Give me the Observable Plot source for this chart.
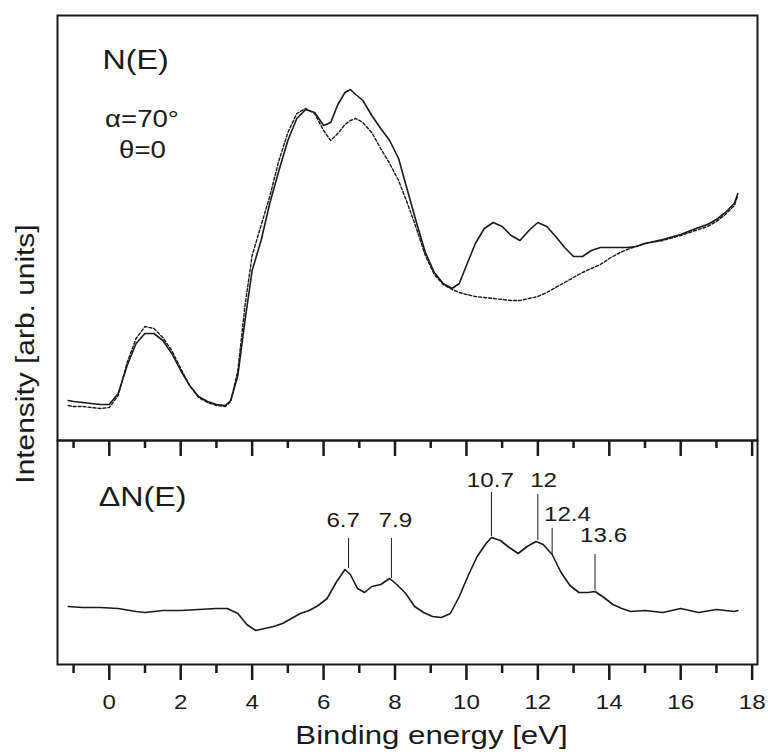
<!DOCTYPE html>
<html>
<head>
<meta charset="utf-8">
<script src="https://cdn.jsdelivr.net/npm/d3@7"></script>
<script src="https://cdn.jsdelivr.net/npm/@observablehq/plot@0.6"></script>
<style>
  html, body { margin: 0; padding: 0; background: #ffffff; }
  #wrap { position: relative; width: 768px; height: 754px; overflow: hidden; font-family: "Liberation Sans", Arial, sans-serif; color: #1a1a1a; }
  #wrap svg { position: absolute; left: 0; overflow: visible; }
  #ytitle { position: absolute; left: 25px; top: 354px; transform: translate(-50%, -50%) rotate(-90deg) scaleX(1.15); white-space: nowrap; font-size: 26px; line-height: 1; }
</style>
</head>
<body>
<div id="wrap"><div id="ytitle">Intensity [arb. units]</div></div>
<script>
// ---- Data ----
// Upper panel: N(E), binding energy in eV, intensity in arbitrary units
const energyTop = [-1.15,-1,-0.75,-0.5,-0.25,0,0.25,0.5,0.75,1,1.25,1.5,1.75,2,2.25,2.5,2.75,3,3.25,3.4,3.6,3.8,4,4.25,4.5,4.75,5,5.25,5.5,5.75,6,6.2,6.4,6.6,6.75,6.9,7.1,7.35,7.6,7.85,8.1,8.35,8.6,8.85,9.1,9.35,9.6,9.8,10,10.25,10.5,10.75,11,11.25,11.5,11.75,12,12.25,12.5,12.75,13,13.25,13.5,13.75,14,14.25,14.5,14.75,15,15.5,16,16.5,16.75,17,17.25,17.5,17.6];
const solidN = [40,39,38,37,36,36,47,75,97,107,107,100,87,70,55,44,39,36,35,40,65,120,170,200,238,270,300,322,331,328,315,318,336,348,351,346,340,325,312,300,282,250,218,188,168,157,152,157,175,197,212,218,214,205,200,210,218,214,204,193,184,184,190,193,193,193,193,194,197,201,206,213,216,221,228,237,247];
const dashedN = [35,34,34,33,32,33,45,78,102,114,112,103,90,72,55,43,38,35,34,39,70,135,185,215,245,280,308,327,332,327,310,300,307,316,320,322,318,308,292,277,260,237,212,185,166,156,151,148,146,144,143,142,141,140,140,142,144,148,153,158,163,168,172,176,182,187,191,194,197,200,205,211,214,219,226,235,245];

// Lower panel: difference spectrum ΔN(E)
const energyDiff = [-1.15,-0.75,-0.25,0.25,0.75,1,1.5,2,2.5,3,3.3,3.6,3.85,4.1,4.35,4.6,4.85,5.1,5.35,5.6,5.85,6.1,6.35,6.6,6.75,6.95,7.15,7.35,7.6,7.85,8.05,8.3,8.55,8.8,9.05,9.3,9.55,9.8,10.05,10.3,10.55,10.7,10.95,11.2,11.45,11.7,11.95,12.15,12.4,12.65,12.9,13.15,13.4,13.6,13.85,14.1,14.35,14.6,15,15.5,16,16.5,17,17.5,17.6];
const diffN = [58,57,57,56,53,52,54,54,55,56,56,51,40,34,36,38,41,46,51,54,59,66,82,95,90,76,72,78,80,86,80,71,58,52,48,47,51,68,89,108,121,127,124,117,111,118,123,120,110,92,79,72,72,73,67,60,56,53,54,52,56,52,55,53,54];

// Peak annotations in the lower panel
const peakLabel = ["6.7","7.9","10.7","12","12.4","13.6"];
const peakE = [6.7,7.9,10.7,12,12.4,13.6];
const peakLineBottom = [96,86,128,124,109,74];
const peakLineTop = [126,126,172,170,136,110];
const peakLabelE = [6.55,8.01,10.67,12.16,12.83,13.84];
const peakLabelY = [144,144,184,184,150,129];

// Axis ticks
const majorTicks = [0,2,4,6,8,10,12,14,16,18];
const minorTicks = [-1,1,3,5,7,9,11,13,15,17];
const xTitle = "Binding energy [eV]";

// ---- Build ----
const ink = "#1a1a1a";
const font = "'Liberation Sans', Arial, sans-serif";
const xDomain = [-1.45, 18.15];
const topRows = energyTop.map((e, i) => ({e, solid: solidN[i], dashed: dashedN[i]}));
const diffRows = energyDiff.map((e, i) => ({e, d: diffN[i]}));
const peaks = peakLabel.map((t, i) => ({t, e: peakE[i], y1: peakLineBottom[i], y2: peakLineTop[i], le: peakLabelE[i], ly: peakLabelY[i]}));

const topPlot = Plot.plot({
  width: 768, height: 441,
  marginTop: 15, marginBottom: 1, marginLeft: 57, marginRight: 11,
  x: {domain: xDomain, axis: null},
  y: {domain: [0, 425], axis: null},
  style: {fontFamily: font, background: "transparent", color: ink, overflow: "visible"},
  marks: [
    Plot.line(topRows, {x: "e", y: "dashed", stroke: ink, strokeWidth: 1.4, strokeDasharray: "3,2"}),
    Plot.line(topRows, {x: "e", y: "solid", stroke: ink, strokeWidth: 1.6}),
    Plot.text(["N(E)"], {text: d => d, frameAnchor: "top-left", dx: 78, dy: 45, fontSize: 28, textAnchor: "middle", lineAnchor: "middle", fill: ink}),
    Plot.text(["α=70°"], {text: d => d, frameAnchor: "top-left", dx: 84.5, dy: 104, fontSize: 24, textAnchor: "middle", lineAnchor: "middle", fill: ink}),
    Plot.text(["θ=0"], {text: d => d, frameAnchor: "top-left", dx: 85, dy: 135, fontSize: 24, textAnchor: "middle", lineAnchor: "middle", fill: ink}),
    Plot.frame({stroke: ink, strokeWidth: 2})
  ]
});
topPlot.style.top = "0px";

// lower panel frame is 224 px tall (marginTop 1, height 315, marginBottom 90)
const frameH = 224;
const bottomPlot = Plot.plot({
  width: 768, height: 315,
  marginTop: 1, marginBottom: 90, marginLeft: 57, marginRight: 11,
  x: {domain: xDomain, axis: null},
  y: {domain: [0, 224], axis: null},
  style: {fontFamily: font, background: "transparent", color: ink, overflow: "visible"},
  marks: [
    Plot.line(diffRows, {x: "e", y: "d", stroke: ink, strokeWidth: 1.6}),
    Plot.ruleX(peaks, {x: "e", y1: "y1", y2: "y2", stroke: ink, strokeWidth: 1}),
    Plot.text(peaks, {x: "le", y: "ly", text: "t", fontSize: 21, textAnchor: "middle", lineAnchor: "middle", fill: ink}),
    Plot.text(["ΔN(E)"], {text: d => d, frameAnchor: "top-left", dx: 85, dy: 57, fontSize: 28, textAnchor: "middle", lineAnchor: "middle", fill: ink}),
    // inward ticks along the panel divider
    Plot.ruleX(majorTicks, {x: d => d, insetBottom: frameH - 16, stroke: ink, strokeWidth: 2.5}),
    Plot.ruleX(minorTicks, {x: d => d, insetBottom: frameH - 8, stroke: ink, strokeWidth: 2.5}),
    // outward ticks below the lower panel
    Plot.ruleX(majorTicks, {x: d => d, insetTop: frameH, insetBottom: -16, stroke: ink, strokeWidth: 2.5}),
    Plot.ruleX(minorTicks, {x: d => d, insetTop: frameH, insetBottom: -9, stroke: ink, strokeWidth: 2.5}),
    Plot.text(majorTicks, {x: d => d, text: d => String(d), frameAnchor: "bottom", dy: 38, fontSize: 21, textAnchor: "middle", lineAnchor: "middle", fill: ink}),
    Plot.text([xTitle], {text: d => d, frameAnchor: "bottom", dy: 71, dx: 24, fontSize: 26, textAnchor: "middle", lineAnchor: "middle", fill: ink}),
    Plot.frame({stroke: ink, strokeWidth: 2})
  ]
});
bottomPlot.style.top = "439px";

const wrap = document.getElementById("wrap");
wrap.appendChild(topPlot);
wrap.appendChild(bottomPlot);

// the reference lettering is a little wider than Liberation Sans: stretch glyphs slightly
for (const svg of [topPlot, bottomPlot]) {
  svg.querySelectorAll("text").forEach(t => {
    const w = t.getComputedTextLength();
    const factor = t.textContent === xTitle ? 1.2 : 1.15;
    if (w > 0) {
      t.setAttribute("textLength", (w * factor).toFixed(1));
      t.setAttribute("lengthAdjust", "spacingAndGlyphs");
    }
  });
}
</script>
</body>
</html>
